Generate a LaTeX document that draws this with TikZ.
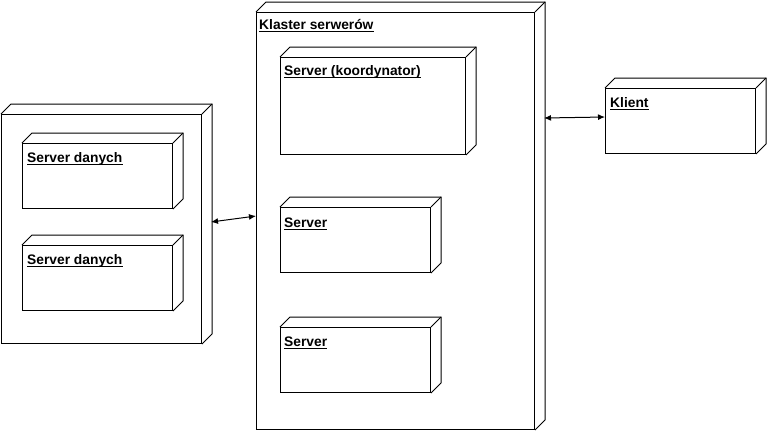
\documentclass[tikz,border=0pt]{standalone}
\usepackage{fontspec}
\setmainfont{Liberation Sans}
\usetikzlibrary{arrows.meta}
\tikzset{
  box/.style={draw=black, line width=1pt, fill=white, inner sep=0pt, anchor=north west},
  lbl/.style={inner sep=0pt, anchor=base west, font=\fontsize{13.8}{16}\selectfont\bfseries},
  conn/.style={line width=1pt, {Latex[length=7pt,width=6pt]}-{Latex[length=7pt,width=6pt]}}
}
\newcommand{\cubedepth}[1]{%
  \draw[line width=1pt, line join=miter] (#1.north west) -- ++(10,-10) -- ([shift={(10,-10)}]#1.north east) -- ([shift={(10,-10)}]#1.south east) -- (#1.south east);
  \draw[line width=1pt] (#1.north east) -- ++(10,-10);
}
\newcommand{\ulabel}[3]{% name, position, text
  \node[lbl] (#1) at (#2) {#3};
  \draw[line width=1pt] ([yshift=-2.5pt]#1.base west) -- ([yshift=-2.5pt]#1.base east);
}
\begin{document}
\begin{tikzpicture}[x=1pt, y=-1pt]
\useasboundingbox (0,0) rectangle (767,432);
% left group
\node[box, minimum width=200pt, minimum height=229pt] (grp) at (1,114) {};
\cubedepth{grp}
\node[box, minimum width=150pt, minimum height=65pt] (sd1) at (22,143) {};
\cubedepth{sd1}
\ulabel{t1}{27,162}{Server danych}
\node[box, minimum width=150pt, minimum height=65pt] (sd2) at (22,245) {};
\cubedepth{sd2}
\ulabel{t2}{27,264}{Server danych}
% cluster
\node[box, minimum width=278pt, minimum height=417pt] (cl) at (256,12) {};
\cubedepth{cl}
\ulabel{t3}{259,29}{Klaster serwerów}
\node[box, minimum width=185pt, minimum height=97pt] (co) at (280,57) {};
\cubedepth{co}
\ulabel{t4}{284,75}{Server (koordynator)}
\node[box, minimum width=150pt, minimum height=65pt] (s1) at (280,207) {};
\cubedepth{s1}
\ulabel{t5}{284,227}{Server}
\node[box, minimum width=150pt, minimum height=65pt] (s2) at (280,327) {};
\cubedepth{s2}
\ulabel{t6}{284,346}{Server}
% client
\node[box, minimum width=150pt, minimum height=65pt] (kl) at (605,88) {};
\cubedepth{kl}
\ulabel{t7}{610,107}{Klient}
% connectors
\coordinate (a1) at (211,222);
\coordinate (a2) at (cl.west |- 0,216);
\draw[conn] (a1) -- (a2);
\coordinate (b1) at (544,118);
\coordinate (b2) at (kl.west |- 0,117);
\draw[conn] (b1) -- (b2);
\end{tikzpicture}
\end{document}
